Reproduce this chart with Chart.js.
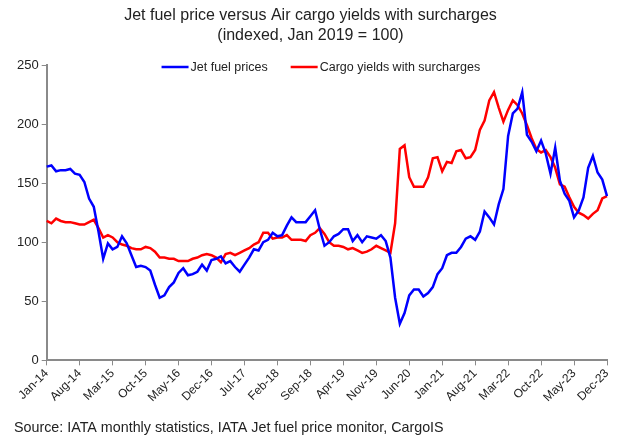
<!DOCTYPE html>
<html>
<head>
<meta charset="utf-8">
<script src="https://cdn.jsdelivr.net/npm/chart.js@4.4.0/dist/chart.umd.min.js"></script>
<style>
  html, body { margin: 0; padding: 0; background: #fff; }
</style>
</head>
<body>
<canvas id="grafica" width="619" height="439"></canvas>
<script>
// Meses Jan-14 ... Dec-23
const meses = ["Jan", "Feb", "Mar", "Apr", "May", "Jun", "Jul", "Aug", "Sep", "Oct", "Nov", "Dec"];
const anios = ["14", "15", "16", "17", "18", "19", "20", "21", "22", "23"];
const etiquetas = [];
anios.forEach(a => meses.forEach(m => etiquetas.push(m + "-" + a)));

// etiquetas visibles del eje x (cada 7 meses)
const etiquetasEje = ["Jan-14", "Aug-14", "Mar-15", "Oct-15", "May-16", "Dec-16", "Jul-17", "Feb-18", "Sep-18",
    "Apr-19", "Nov-19", "Jun-20", "Jan-21", "Aug-21", "Mar-22", "Oct-22", "May-23", "Dec-23"];

const jetFuel = [
    164, 165, 160, 161, 161, 162, 158, 157, 151, 137, 130, 109,
    86, 99, 94, 96, 105, 99, 89, 79, 80, 79, 76, 64,
    53, 55, 62, 66, 74, 78, 72, 73, 75, 81, 76, 85,
    86, 88, 82, 84, 79, 75, 81, 87, 94, 93, 100, 102,
    108, 105, 106, 114, 121, 117, 117, 117, 122, 127, 111, 97,
    100, 105, 107, 111, 111, 101, 106, 100, 105, 104, 103, 106,
    101, 87, 53, 31, 40, 55, 60, 60, 54, 57, 62, 73,
    78, 89, 91, 91, 96, 103, 105, 102, 109, 126, 121, 115,
    132, 145, 190, 209, 213, 227, 191, 185, 177, 186, 175, 158,
    180, 152, 141, 135, 121, 127, 138, 163, 173, 159, 153, 139
];

const cargoYields = [
    118, 116, 120, 118, 117, 117, 116, 115, 115, 117, 119, 112,
    104, 106, 104, 100, 98, 97, 95, 94, 94, 96, 95, 92,
    87, 87, 86, 86, 84, 84, 84, 86, 87, 89, 90, 89,
    87, 83, 90, 91, 89, 91, 93, 95, 98, 100, 108, 108,
    103, 104, 104, 106, 102, 102, 102, 101, 106, 108, 112, 107,
    100, 97, 97, 96, 94, 95, 93, 91, 92, 94, 97, 95,
    93, 91, 116, 179, 182, 155, 147, 147, 147, 155, 171, 172,
    160, 168, 167, 177, 178, 171, 172, 178, 195, 203, 220, 227,
    214, 202, 212, 220, 216, 209, 199, 188, 179, 176, 178, 172,
    163, 149, 147, 138, 130, 125, 123, 120, 124, 127, 137, 139
];

const fuente = '"Liberation Sans", Arial, sans-serif';
const gris = "#8a8a8a";

// Leyenda dibujada dentro del area del grafico (como en el original)
const leyendaPlugin = {
    id: "leyenda",
    afterDraw(chart) {
        const ctx = chart.ctx;
        const area = chart.chartArea;
        ctx.save();
        ctx.font = "12.5px " + fuente;
        ctx.textBaseline = "middle";
        const largo = 27, hueco = 2, separacion = 23;
        const items = chart.data.datasets.map(d => ({
            texto: d.label,
            color: d.borderColor,
            ancho: largo + hueco + ctx.measureText(d.label).width
        }));
        const total = items.reduce((s, it) => s + it.ancho, 0) + separacion * (items.length - 1);
        let x = (area.left + area.right) / 2 - 6 - total / 2;
        const y = area.top + 2;
        items.forEach(it => {
            ctx.strokeStyle = it.color;
            ctx.lineWidth = 2.5;
            ctx.beginPath();
            ctx.moveTo(x, y);
            ctx.lineTo(x + largo, y);
            ctx.stroke();
            ctx.fillStyle = "#222";
            ctx.fillText(it.texto, x + largo + hueco, y + 1);
            x += it.ancho + separacion;
        });
        ctx.restore();
    }
};

new Chart(document.getElementById("grafica"), {
    type: "line",
    data: {
        labels: etiquetas,
        datasets: [
            {
                label: "Jet fuel prices",
                data: jetFuel,
                borderColor: "#0000ff",
                backgroundColor: "#0000ff",
                borderWidth: 2.5,
                pointRadius: 0,
                tension: 0
            },
            {
                label: "Cargo yields with surcharges",
                data: cargoYields,
                borderColor: "#ff0000",
                backgroundColor: "#ff0000",
                borderWidth: 2.5,
                pointRadius: 0,
                tension: 0
            }
        ]
    },
    options: {
        responsive: false,
        animation: false,
        layout: { padding: { left: 14, right: 12, top: 0, bottom: 0 } },
        plugins: {
            legend: { display: false },
            tooltip: { enabled: false },
            title: {
                display: true,
                text: ["Jet fuel price versus Air cargo yields with surcharges", "(indexed, Jan 2019 = 100)"],
                color: "#222",
                font: { family: fuente, size: 16, weight: "normal", lineHeight: 1.25 },
                padding: { top: 6, bottom: 19 }
            },
            subtitle: {
                display: true,
                position: "bottom",
                align: "start",
                text: "Source: IATA monthly statistics, IATA Jet fuel price monitor, CargoIS",
                color: "#222",
                font: { family: fuente, size: 14.3, weight: "normal" },
                padding: { top: 14, bottom: 2 }
            }
        },
        scales: {
            x: {
                offset: false,
                grid: {
                    drawOnChartArea: false,
                    drawTicks: true,
                    tickLength: 5,
                    color: ctx => (ctx.index % 7 === 0 ? gris : "rgba(0,0,0,0)")
                },
                border: { color: gris, width: 2 },
                ticks: {
                    autoSkip: false,
                    maxRotation: 45,
                    minRotation: 45,
                    padding: 1,
                    color: "#222",
                    font: { family: fuente, size: 12 },
                    callback: function (valor, i) {
                        const et = etiquetas[i];
                        return etiquetasEje.includes(et) ? et : "";
                    }
                }
            },
            y: {
                min: 0,
                max: 250,
                grid: {
                    drawOnChartArea: false,
                    drawTicks: true,
                    tickLength: 5,
                    color: gris
                },
                border: { color: gris, width: 2 },
                ticks: {
                    stepSize: 50,
                    padding: 3,
                    color: "#222",
                    font: { family: fuente, size: 13 }
                }
            }
        }
    },
    plugins: [leyendaPlugin]
});
</script>
</body>
</html>
